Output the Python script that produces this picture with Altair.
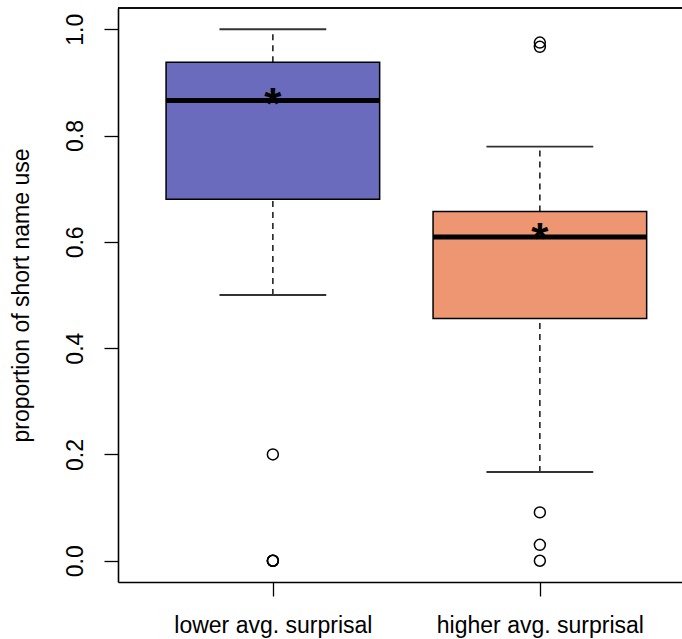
import altair as alt
import pandas as pd

# Summary statistics of short-name use, per surprisal group
groups = ["lower avg. surprisal", "higher avg. surprisal"]
positions = [1, 2]
q1 = [0.680, 0.456]
median = [0.866, 0.609]
q3 = [0.938, 0.657]
whisker_lo = [0.500, 0.167]
whisker_hi = [1.000, 0.779]
means = [0.876, 0.622]
fills = ["#6A6BBC", "#EE9672"]

# Points beyond the whiskers
outlier_group = [1, 1, 1, 1, 2, 2, 2, 2, 2]
outlier_value = [0.20, 0.0, 0.0, 0.0, 0.975, 0.967, 0.091, 0.030, 0.0]

y_ticks = [0.0, 0.2, 0.4, 0.6, 0.8, 1.0]

FONT = "Liberation Sans"
BOX_HALF = 0.4
CAP_HALF = 0.2

boxes = pd.DataFrame({
    "group": groups,
    "pos": positions,
    "left": [p - BOX_HALF for p in positions],
    "right": [p + BOX_HALF for p in positions],
    "cap_left": [p - CAP_HALF for p in positions],
    "cap_right": [p + CAP_HALF for p in positions],
    "q1": q1,
    "median": median,
    "q3": q3,
    "lo": whisker_lo,
    "hi": whisker_hi,
    "mean": means,
    "fill": fills,
})
outliers = pd.DataFrame({"pos": outlier_group, "value": outlier_value})

x_scale = alt.Scale(domain=[0.42, 0.42 + 564 / 267], nice=False, zero=False)
y_scale = alt.Scale(domain=[-0.04, 1.04], nice=False, zero=False)

label_expr = "datum.value == 1 ? '%s' : '%s'" % (groups[0], groups[1])

x_axis = alt.Axis(
    values=positions, labelExpr=label_expr, title=None, grid=False,
    tickSize=14, tickColor="black", tickWidth=1.3,
    domainColor="black", domainWidth=1.6,
    labelFont=FONT, labelFontSize=23, labelColor="black",
    labelBaseline="alphabetic", labelPadding=36, labelAlign="center",
    labelLimit=0, labelOverlap=False,
)
y_axis = alt.Axis(
    values=y_ticks, format=".1f", grid=False,
    title="proportion of short name use",
    titleFont=FONT, titleFontSize=23, titleFontWeight="normal", titleColor="black",
    titleAngle=270, titleAlign="center", titleBaseline="alphabetic",
    titleX=-90, titleY=287, titleLimit=0,
    tickSize=14, tickColor="black", tickWidth=1.3,
    domainColor="black", domainWidth=1.6,
    labelFont=FONT, labelFontSize=23, labelColor="black",
    labelAngle=270, labelAlign="center", labelBaseline="alphabetic", labelPadding=22,
    labelOverlap=False,
)

base = alt.Chart(boxes)

# Dashed whiskers from the box edges to the whisker ends
whisk_up = base.mark_rule(color="#222222", strokeWidth=1.6, strokeDash=[6, 5]).encode(
    x=alt.X("pos:Q", scale=x_scale, axis=x_axis),
    y=alt.Y("q3:Q", scale=y_scale, axis=y_axis),
    y2="hi:Q",
)
whisk_down = base.mark_rule(color="#222222", strokeWidth=1.6, strokeDash=[6, 5]).encode(
    x=alt.X("pos:Q", scale=x_scale),
    y=alt.Y("lo:Q", scale=y_scale),
    y2="q1:Q",
)

# Whisker caps
cap_hi = base.mark_rule(color="#333333", strokeWidth=1.8).encode(
    x=alt.X("cap_left:Q", scale=x_scale), x2="cap_right:Q",
    y=alt.Y("hi:Q", scale=y_scale),
)
cap_lo = base.mark_rule(color="#333333", strokeWidth=1.8).encode(
    x=alt.X("cap_left:Q", scale=x_scale), x2="cap_right:Q",
    y=alt.Y("lo:Q", scale=y_scale),
)

# Interquartile boxes
box = base.mark_rect(stroke="black", strokeWidth=1.5).encode(
    x=alt.X("left:Q", scale=x_scale), x2="right:Q",
    y=alt.Y("q1:Q", scale=y_scale), y2="q3:Q",
    fill=alt.Fill("fill:N", scale=None),
)

# Medians
med = base.mark_rule(color="black", strokeWidth=5).encode(
    x=alt.X("left:Q", scale=x_scale), x2="right:Q",
    y=alt.Y("median:Q", scale=y_scale),
)

# Means marked with an asterisk
mean_star = base.mark_text(
    text="*", font=FONT, fontSize=44, fontWeight="bold", color="black",
    baseline="alphabetic", align="center", dy=24,
).encode(
    x=alt.X("pos:Q", scale=x_scale),
    y=alt.Y("mean:Q", scale=y_scale),
)

# Outliers as open circles
outlier_pts = alt.Chart(outliers).mark_point(
    shape="circle", filled=False, color="black", strokeWidth=1.5, size=120, opacity=1,
).encode(
    x=alt.X("pos:Q", scale=x_scale),
    y=alt.Y("value:Q", scale=y_scale),
)

# Top edge of the frame
top_edge = alt.Chart(boxes).mark_rule(color="black", strokeWidth=1.6).encode(
    x=alt.value(0), x2=alt.value(564), y=alt.value(0),
)

chart = alt.layer(
    whisk_up, whisk_down, cap_hi, cap_lo, box, med, mean_star, outlier_pts, top_edge
).properties(
    width=564, height=574,
    autosize=alt.AutoSizeParams(type="none"),
    padding={"left": 118, "top": 8, "right": 0, "bottom": 57},
    background="white",
).configure_view(stroke=None)

chart.save("out.html", embed_options={"renderer": "svg", "actions": False})
